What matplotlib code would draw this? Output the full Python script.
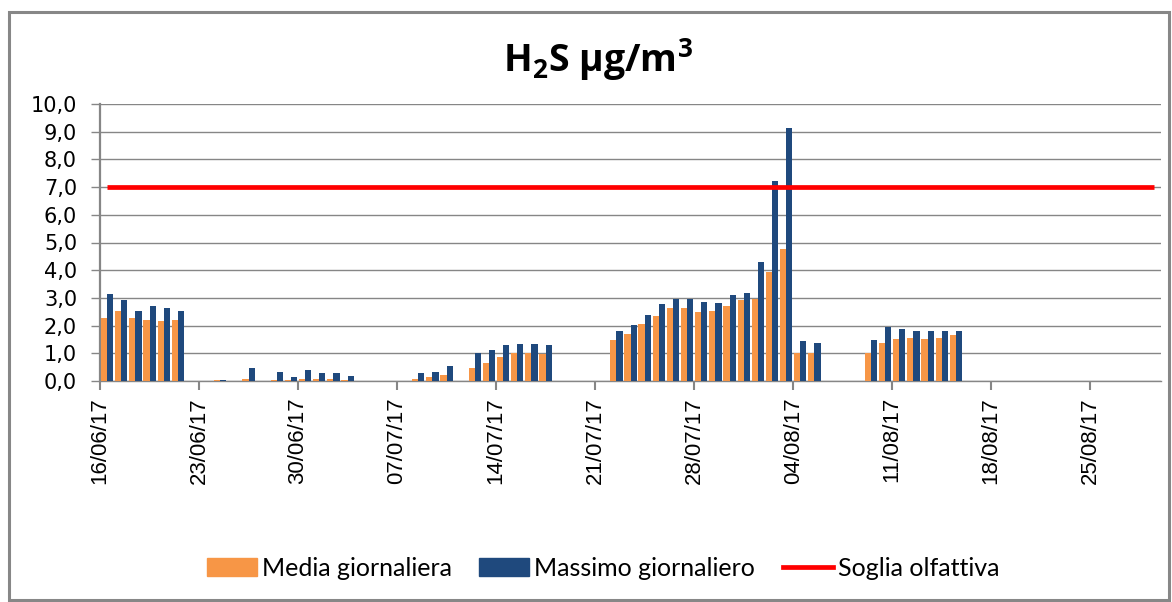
import datetime as dt

import matplotlib.pyplot as plt
import numpy as np
from matplotlib.lines import Line2D
from matplotlib.patches import Patch, Rectangle

plt.rcParams['mathtext.fontset'] = 'custom'
plt.rcParams['mathtext.rm'] = 'Open Sans:bold'
plt.rcParams['mathtext.bf'] = 'Open Sans:bold'

# daily H2S values (ug/m3), days without data are simply not listed
start_date = '16/06/17'
end_date = '29/08/17'
dates = ['16/06/17', '17/06/17', '18/06/17', '19/06/17', '20/06/17', '21/06/17',
         '24/06/17', '26/06/17', '28/06/17', '29/06/17', '30/06/17', '01/07/17',
         '02/07/17', '03/07/17', '08/07/17', '09/07/17', '10/07/17', '12/07/17',
         '13/07/17', '14/07/17', '15/07/17', '16/07/17', '17/07/17', '22/07/17',
         '23/07/17', '24/07/17', '25/07/17', '26/07/17', '27/07/17', '28/07/17',
         '29/07/17', '30/07/17', '31/07/17', '01/08/17', '02/08/17', '03/08/17',
         '04/08/17', '05/08/17', '09/08/17', '10/08/17', '11/08/17', '12/08/17',
         '13/08/17', '14/08/17', '15/08/17']
media = [2.29, 2.53, 2.29, 2.20, 2.17, 2.20,
         0.04, 0.07, 0.04, 0.04, 0.07, 0.07,
         0.07, 0.04, 0.07, 0.14, 0.22, 0.47,
         0.65, 0.87, 1.02, 1.02, 0.98, 1.48,
         1.69, 2.06, 2.35, 2.64, 2.64, 2.49,
         2.53, 2.71, 2.93, 2.96, 3.93, 4.77,
         1.00, 1.00, 1.02, 1.38, 1.53, 1.56,
         1.53, 1.56, 1.67]
massimo = [3.14, 2.93, 2.53, 2.71, 2.64, 2.53,
           0.05, 0.46, 0.32, 0.14, 0.40, 0.29,
           0.29, 0.18, 0.29, 0.32, 0.55, 1.02,
           1.13, 1.31, 1.35, 1.35, 1.31, 1.80,
           2.02, 2.38, 2.78, 2.96, 2.96, 2.85,
           2.82, 3.11, 3.18, 4.30, 7.22, 9.13,
           1.44, 1.37, 1.49, 1.96, 1.88, 1.79,
           1.82, 1.82, 1.82]
soglia = 7.0

ORANGE = '#F79646'
BLUE = '#1F497D'
RED = '#FF0000'
GRAY = '#868686'


def to_date(s):
    return dt.datetime.strptime(s, '%d/%m/%y').date()


t0 = to_date(start_date)
n_days = (to_date(end_date) - t0).days + 1
x = np.array([(to_date(d) - t0).days for d in dates]) + 0.5
all_days = np.arange(n_days) + 0.5

W, H = 1172, 602
fig = plt.figure(figsize=(W / 100, H / 100), dpi=100)
ax = fig.add_axes([100 / W, 1 - 381 / H, 1061 / W, 277 / H])

bw = 0.435
ax.bar(x - bw / 2, media, width=bw, color=ORANGE, zorder=3)
ax.bar(x + bw / 2, massimo, width=bw, color=BLUE, zorder=3)
ax.plot(all_days, np.full(n_days, soglia), color=RED, lw=3.4, zorder=4,
        solid_capstyle='butt')

ax.set_xlim(0, n_days)
ax.set_ylim(0, 10)
ax.set_yticks(np.arange(0, 11, 1))
ax.set_yticklabels([f'{v:.1f}'.replace('.', ',') for v in np.arange(0, 11, 1)],
                   fontsize=15, family='DejaVu Sans')
xt = np.arange(0, n_days, 7)
ax.set_xticks(xt)
ax.set_xticklabels([(t0 + dt.timedelta(days=int(k))).strftime('%d/%m/%y') for k in xt],
                   rotation=90, fontsize=16, family='Liberation Sans')

ax.yaxis.grid(True, color=GRAY, lw=1.0, zorder=0)
ax.set_axisbelow(True)
for s in ('top', 'right'):
    ax.spines[s].set_visible(False)
ax.spines['left'].set_color(GRAY)
ax.spines['left'].set_linewidth(1.6)
ax.spines['bottom'].set_color(GRAY)
ax.spines['bottom'].set_linewidth(1.0)
ax.tick_params(axis='y', length=6.5, width=1.0, color=GRAY, pad=10)
ax.tick_params(axis='x', length=6.5, width=1.5, color=GRAY, pad=5)

fig.text(598 / W, 1 - 60 / H, r'H$_2$S µg/m$^3$', ha='center', va='center',
         fontsize=27, fontweight='bold', family='Open Sans')

handles = [Patch(color=ORANGE, label='Media giornaliera'),
           Patch(color=BLUE, label='Massimo giornaliero'),
           Line2D([], [], color=RED, lw=3.4, label='Soglia olfattiva')]
fig.legend(handles=handles, loc='center', bbox_to_anchor=(603 / W, 1 - 568 / H),
           ncol=3, frameon=False, prop={'family': 'Lato', 'size': 18},
           handlelength=2.0, handletextpad=0.2, columnspacing=1.1)

fig.patches.append(Rectangle((9 / W, 1 - 600 / H), 1160 / W, 588 / H,
                             transform=fig.transFigure, fill=False,
                             ec='#878787', lw=2.2))

fig.savefig('out.png', dpi=100)
